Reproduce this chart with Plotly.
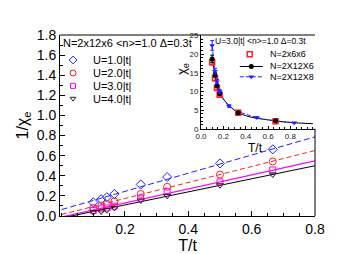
import plotly.graph_objects as go

# ---------------- data ----------------
T_main = [0.1, 0.125, 0.1429, 0.1667, 0.25, 0.3333, 0.5, 0.6667]
inv_U1 = [0.136, 0.167, 0.187, 0.219, 0.313, 0.387, 0.523, 0.663]
inv_U2 = [0.080, 0.103, 0.119, 0.145, 0.219, 0.290, 0.412, 0.542]
inv_U3 = [0.054, 0.071, 0.080, 0.097, 0.177, 0.242, 0.339, 0.458]
inv_U4 = [0.039, 0.045, 0.058, 0.080, 0.155, 0.200, 0.306, 0.412]

fit_T = [0.0, 0.8]
fit_U1 = [0.064, 0.787]
fit_U2 = [0.015, 0.651]
fit_U3 = [-0.010, 0.548]
fit_U4 = [-0.020, 0.500]

main_labels = ["U=1.0|t|", "U=2.0|t|", "U=3.0|t|", "U=4.0|t|"]
main_title = "N=2x12x6 &lt;n&gt;=1.0 Δ=0.3t"

# inset
T_666 = [0.1, 0.125, 0.1429, 0.1667, 0.3333, 0.6667]
chi_666 = [17.8, 13.5, 10.9, 9.1, 4.3, 2.0]
err_666 = [0.7, 0.5, 0.5, 0.4, 0.3, 0.2]

T_1266 = [0.1, 0.125, 0.1429, 0.1667, 0.3333, 0.6667, 1.0]
chi_1266 = [18.7, 14.4, 11.5, 9.4, 4.3, 2.1, 1.35]
err_1266 = [1.0, 0.6, 0.5, 0.4, 0.3, 0.2, 0.0]

T_1268 = [0.1, 0.125, 0.1429, 0.1667, 0.25, 0.5, 0.8333]
chi_1268 = [22.3, 15.4, 12.6, 10.0, 6.1, 3.0, 1.6]
err_1268 = [1.3, 0.8, 0.6, 0.5, 0.3, 0.2, 0.1]

inset_labels = ["N=2x6x6", "N=2X12X6", "N=2X12X8"]
inset_title = "U=3.0|t| &lt;n&gt;=1.0 Δ=0.3t"
inset_xticks = [0.0, 0.2, 0.4, 0.6, 0.8]

FONT = "Arial, Liberation Sans, sans-serif"
BLUE, RED, MAG, BLK = "#1f1fff", "#ff2020", "#ff00ff", "#000000"

fig = go.Figure()

# fit lines
fig.add_trace(go.Scatter(x=fit_T, y=fit_U1, mode="lines", line=dict(color=BLUE, width=1, dash="6px,3px")))
fig.add_trace(go.Scatter(x=fit_T, y=fit_U2, mode="lines", line=dict(color=RED, width=1, dash="5px,3px")))
fig.add_trace(go.Scatter(x=fit_T, y=fit_U3, mode="lines", line=dict(color=MAG, width=1.2)))
fig.add_trace(go.Scatter(x=fit_T, y=fit_U4, mode="lines", line=dict(color=BLK, width=1)))

# data markers
mk = [("diamond-open", BLUE, inv_U1, 7), ("circle-open", RED, inv_U2, 7),
      ("square-open", MAG, inv_U3, 6), ("triangle-down-open", "#222222", inv_U4, 6)]
for sym, col, ys, sz in mk:
    fig.add_trace(go.Scatter(x=T_main, y=ys, mode="markers",
                             marker=dict(symbol=sym, color=col, size=sz, line=dict(width=1, color=col))))

# inset traces
fig.add_trace(go.Scatter(x=T_1266, y=chi_1266, mode="lines", line=dict(color=BLK, width=1, shape="spline"),
                         xaxis="x2", yaxis="y2"))
fig.add_trace(go.Scatter(x=T_1268, y=chi_1268, mode="lines", line=dict(color=BLUE, width=1, dash="4px,2px", shape="spline"),
                         xaxis="x2", yaxis="y2"))
fig.add_trace(go.Scatter(x=T_666, y=chi_666, mode="markers",
                         error_y=dict(array=err_666, color=RED, thickness=1, width=2),
                         marker=dict(symbol="square-open", color=RED, size=5, line=dict(width=1.5, color=RED)),
                         xaxis="x2", yaxis="y2"))
fig.add_trace(go.Scatter(x=T_1266[:-1], y=chi_1266[:-1], mode="markers",
                         error_y=dict(array=err_1266[:-1], color=BLK, thickness=1, width=2),
                         marker=dict(symbol="circle", color=BLK, size=5),
                         xaxis="x2", yaxis="y2"))
fig.add_trace(go.Scatter(x=T_1268, y=chi_1268, mode="markers",
                         error_y=dict(array=err_1268, color=BLUE, thickness=1, width=2),
                         marker=dict(symbol="triangle-down", color=BLUE, size=5),
                         xaxis="x2", yaxis="y2"))

# ---- legend (main) drawn on an overlay axis ----
leg_y = [0.862, 0.790, 0.719, 0.649]
for (sym, col, _, sz), yy in zip(mk, leg_y):
    fig.add_trace(go.Scatter(x=[0.051], y=[yy], mode="markers", xaxis="x3", yaxis="y3",
                             marker=dict(symbol=sym, color=col, size=sz - 1, line=dict(width=1, color=col))))

# ---- legend (inset) ----
fig.add_trace(go.Scatter(x=[0.744], y=[0.894], mode="markers", xaxis="x3", yaxis="y3",
                         marker=dict(symbol="square-open", color=RED, size=5, line=dict(width=1.5, color=RED))))
fig.add_trace(go.Scatter(x=[0.705, 0.796], y=[0.826, 0.826], mode="lines", xaxis="x3", yaxis="y3",
                         line=dict(color=BLK, width=1)))
fig.add_trace(go.Scatter(x=[0.750], y=[0.826], mode="markers", xaxis="x3", yaxis="y3",
                         marker=dict(symbol="circle", color=BLK, size=5)))
fig.add_trace(go.Scatter(x=[0.705, 0.796], y=[0.769, 0.769], mode="lines", xaxis="x3", yaxis="y3",
                         line=dict(color=BLUE, width=1, dash="4px,2px")))
fig.add_trace(go.Scatter(x=[0.750], y=[0.769], mode="markers", xaxis="x3", yaxis="y3",
                         marker=dict(symbol="triangle-down", color=BLUE, size=5)))

ann = []
ann.append(dict(x=0.004, y=0.957, text=main_title, font=dict(size=11)))
for lab, yy in zip(main_labels, leg_y):
    ann.append(dict(x=0.122, y=yy, text=lab, font=dict(size=11)))
ann.append(dict(x=0.600, y=0.968, text=inset_title, font=dict(size=8.5)))
for lab, yy in zip(inset_labels, [0.894, 0.826, 0.769]):
    ann.append(dict(x=0.816, y=yy, text=lab, font=dict(size=9)))
annotations = [dict(xref="paper", yref="paper", xanchor="left", yanchor="middle", showarrow=False, **a) for a in ann]
# inset axis titles
annotations.append(dict(xref="paper", yref="paper", x=(247 - 52) / 255, y=(213 - 143) / 186, text="T/t",
                        showarrow=False, font=dict(size=12), xanchor="center", yanchor="middle"))
annotations.append(dict(xref="paper", yref="paper", x=(174 - 52) / 255, y=(213 - 62) / 186, text="χ<sub>e</sub>",
                        showarrow=False, font=dict(size=13), textangle=-90, xanchor="center", yanchor="middle"))

fig.update_layout(
    width=345, height=254,
    margin=dict(l=52, r=38, t=27, b=41),
    paper_bgcolor="white", plot_bgcolor="rgba(0,0,0,0)",
    showlegend=False,
    font=dict(family=FONT, color="black"),
    xaxis=dict(domain=[0, 1], range=[-0.005, 0.8], tickvals=[0.2, 0.4, 0.6, 0.8], ticktext=["0.2", "0.4", "0.6", "0.8"],
               ticks="inside", ticklen=5, tickcolor="black", showline=True, linecolor="black", linewidth=1,
               showgrid=False, zeroline=False, tickfont=dict(size=14),
               minor=dict(dtick=0.05, ticks="inside", ticklen=3, tickcolor="black"),
               title=dict(text="T/t", font=dict(size=16), standoff=2)),
    yaxis=dict(domain=[0, 1], range=[0, 1.8], dtick=0.2, tickformat=".1f",
               ticks="inside", ticklen=5, tickcolor="black", showline=True, linecolor="black", linewidth=1,
               showgrid=False, zeroline=False, tickfont=dict(size=14),
               minor=dict(dtick=0.1, ticks="inside", ticklen=3, tickcolor="black"),
               title=dict(text="1/χ<sub>e</sub>", font=dict(size=16), standoff=4)),
    xaxis2=dict(domain=[(193 - 52) / 255, 1.0], range=[0, 1.02], anchor="y2",
                tickvals=inset_xticks, ticktext=[f"{v:.1f}" for v in inset_xticks],
                ticks="inside", ticklen=3, tickcolor="black", showline=True, linecolor="black", linewidth=1,
                showgrid=False, zeroline=False, tickfont=dict(size=8, color="#222"),
                minor=dict(dtick=0.05, ticks="inside", ticklen=2, tickcolor="black")),
    yaxis2=dict(domain=[(213 - 123.3) / 186, 1.0], range=[0, 25.1], anchor="x2", dtick=5,
                ticks="inside", ticklen=3, tickcolor="black", showline=True, linecolor="black", linewidth=1,
                showgrid=False, zeroline=False, tickfont=dict(size=8, color="#222"),
                minor=dict(dtick=1, ticks="inside", ticklen=2, tickcolor="black")),
    xaxis3=dict(domain=[0, 1], range=[0, 1], overlaying="x", visible=False, fixedrange=True),
    yaxis3=dict(domain=[0, 1], range=[0, 1], overlaying="y", anchor="x3", visible=False, fixedrange=True),
    annotations=annotations,
    shapes=[
        dict(type="line", xref="paper", yref="paper", x0=0, x1=1, y0=1, y1=1, line=dict(color="black", width=1)),
        dict(type="line", xref="paper", yref="paper", x0=1, x1=1, y0=0, y1=(213 - 123.3) / 186, line=dict(color="black", width=1)),
    ],
)

fig.write_html("out.html")
